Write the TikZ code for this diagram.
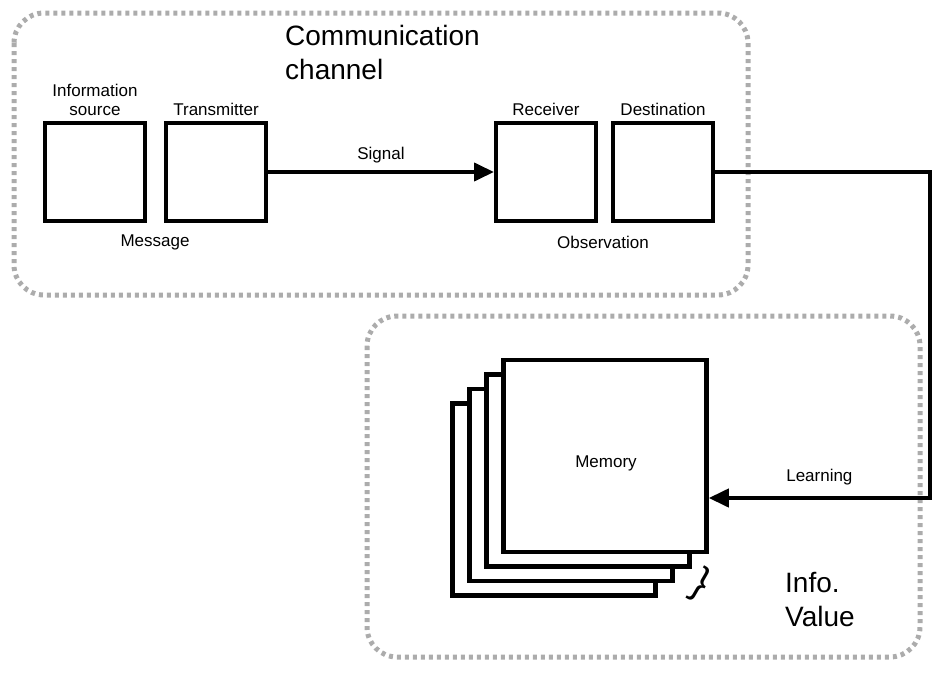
\documentclass[tikz,border=0pt]{standalone}
\usepackage{fontspec}
\setmainfont{Liberation Sans}
\usetikzlibrary{arrows.meta, positioning, calc}

\tikzset{
  block/.style={draw, line width=4pt, fill=white, minimum width=100pt, minimum height=98pt, inner sep=0pt},
  membox/.style={draw, line width=4.5pt, fill=white, minimum width=203pt, minimum height=192pt, inner sep=0pt},
  zone/.style={draw=gray!65, line width=5pt, dash pattern=on 4pt off 4pt, rounded corners=30pt},
  lbl/.style={font=\fontsize{17pt}{19pt}\selectfont, align=center},
  link/.style={line width=4pt, -{Triangle[length=20pt, width=18pt]}}
}

\begin{document}
\begin{tikzpicture}[x=1pt, y=-1pt]
        \useasboundingbox (0,0) rectangle (937,680);

        % Zones
        \draw[zone] (14,13) rectangle (748,295);
        \draw[zone] (367,316) rectangle (920,657);
        \node[font=\fontsize{28pt}{34pt}\selectfont, align=left, anchor=north west, inner sep=0pt] (title) at (285,25) {Communication\\channel};
        \node[font=\fontsize{28pt}{34pt}\selectfont, align=left, anchor=north west, inner sep=0pt] (value) at (785,572) {Info.\\ Value};

        % Canal
        \node[block] (source) at (95,172) {};
        \node[block] (trans) at (216,172) {};
        \node[block] (recv) at (546,172) {};
        \node[block] (dest) at (663,172) {};
        \node[lbl, above=2pt of source] {Information\\source};
        \node[lbl, above=2pt of trans] {Transmitter};
        \node[lbl, above=2pt of recv] {Receiver};
        \node[lbl, above=2pt of dest] {Destination};
        \node[lbl] (msg) at (155,242) {Message};
        \node[lbl] (obs) at (603,242) {Observation};

        % Memoire (pile)
        \foreach \k in {3,2,1} {
            \node[membox] (mem\k) at ($(605,456)+(-17*\k,14.5*\k)$) {};
        }
        \node[membox] (mem) at (605,456) {};
        \node[lbl] at (606,463) {Memory};
        \node[font=\fontsize{40pt}{44pt}\selectfont, rotate=-30] (brace) at (700,585) {\}};

        % Fleches
        \draw[link] (trans.east) -- node[lbl, above=4pt] {Signal} (recv.west);
        \coordinate (corner1) at (930,172);
        \coordinate (corner2) at (930,498);
        \draw[link] (dest.east) -- (corner1) -- (corner2) -- node[lbl, above=8pt] {Learning} (mem.east |- corner2);

    \end{tikzpicture}
\end{document}
